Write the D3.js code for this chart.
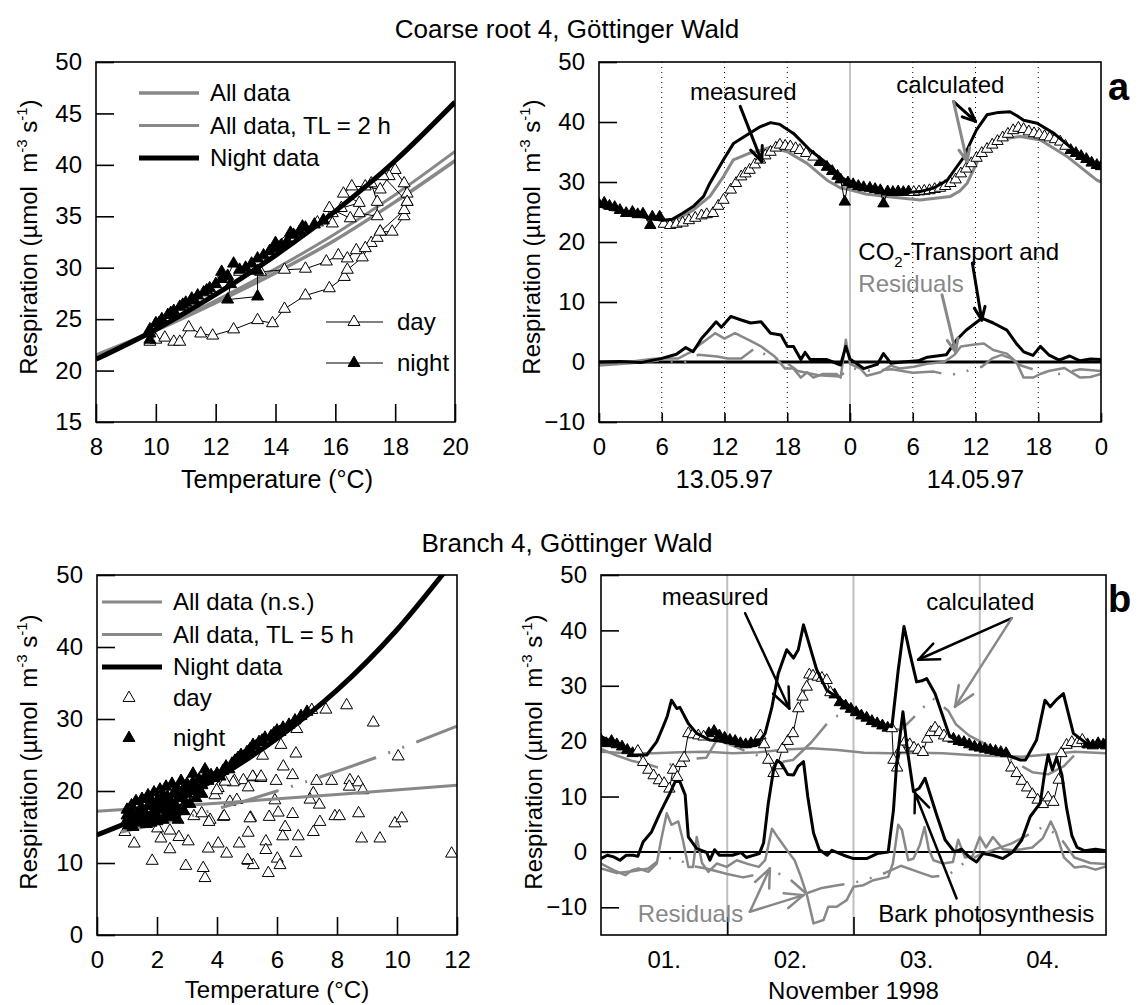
<!DOCTYPE html>
<html>
<head>
<meta charset="utf-8">
<script src="https://cdn.jsdelivr.net/npm/d3@7"></script>
<style>
  body { margin: 0; background: #fff; overflow: hidden; }
  svg { display: block; }
  text { white-space: pre; }
</style>
</head>
<body>
<script>
// ---------- data: coarse root (panel a, left) ----------
const crTempTicks = [8, 10, 12, 14, 16, 18, 20]
const crRespTicks = [15, 20, 25, 30, 35, 40, 45, 50]
const crFitT = [8, 10, 12, 14, 16, 18, 20]
const crFitAll = [21.5, 23.9, 26.6, 29.5, 32.7, 36.4, 40.4]
const crFitTL = [21.4, 23.9, 26.8, 29.9, 33.3, 37.1, 41.3]
const crFitNight = [21.1, 24.0, 27.4, 31.2, 35.5, 40.4, 46.1]
const crDay1 = [[9.8, 22.8], [10.0, 23.0], [10.3, 23.2], [10.6, 22.8], [10.8, 22.8], [11.1, 24.2], [11.5, 23.6], [11.9, 23.4], [12.6, 24.0], [13.4, 24.9], [13.9, 24.6], [14.3, 26.0], [15.0, 27.3], [15.8, 28.0], [16.3, 29.1], [16.4, 29.8], [16.9, 31.0], [17.2, 32.4], [17.5, 33.5], [17.9, 33.5], [18.3, 35.0], [18.4, 36.4], [18.4, 37.2], [18.3, 38.2], [18.0, 39.5], [17.8, 38.9], [17.5, 37.6], [17.0, 37.9], [16.55, 37.9], [16.27, 37.2], [16.8, 36.3], [16.2, 35.8], [15.9, 35.3], [15.6, 34.6]]
const crDay2 = [[12.8, 29.6], [13.5, 29.6], [14.3, 29.8], [15.0, 29.9], [15.7, 30.6], [16.1, 31.2], [16.4, 30.9], [16.7, 31.7], [17.0, 31.9], [17.4, 32.9], [17.5, 33.5], [18.3, 35.6], [18.4, 36.4], [17.6, 38.9], [17.2, 38.2], [17.4, 36.4], [17.4, 35.0], [16.8, 35.3], [16.5, 34.8], [15.8, 35.8], [15.9, 34.3], [15.4, 34.4]]
const crNight1 = [[15.6, 34.6], [15.3, 34.2], [15.0, 33.9], [14.8, 33.5], [14.6, 33.2], [14.4, 32.6], [14.2, 32.2], [14.0, 31.9], [13.8, 31.6], [13.6, 31.2], [13.4, 30.9], [13.2, 30.4], [13.0, 30.0], [12.8, 29.8], [12.6, 30.4], [12.4, 29.2], [12.2, 28.9], [12.0, 28.4], [11.8, 28.0], [11.6, 27.6], [11.4, 27.3], [11.2, 27.0], [11.0, 26.6], [10.8, 26.2], [10.6, 25.8], [10.4, 25.4], [10.2, 25.0], [10.0, 24.6], [9.8, 24.0], [9.8, 23.0]]
const crNight2 = [[14.9, 34.0], [14.5, 33.4], [14.0, 32.4], [13.4, 29.7], [13.4, 27.2], [12.4, 26.9], [12.5, 28.4], [12.2, 29.6], [11.7, 27.8], [11.3, 26.8], [10.9, 26.4], [10.5, 25.6], [10.1, 24.6], [9.8, 23.6]]

// ---------- data: coarse root time course (panel a, right) ----------
const trHourTicks = [0, 6, 12, 18, 24, 30, 36, 42, 48]
const trRespTicks = [-10, 0, 10, 20, 30, 40, 50]
const trDates = [[12, '13.05.97'], [36, '14.05.97']]
const trDaylight = [[6, 21], [30, 44.8]]
const trMeasured = [[0, 26.3], [0.5, 26.5], [1, 26.0], [1.5, 25.8], [2, 25.3], [2.6, 24.8], [3.2, 25.0], [3.7, 24.6], [4.2, 24.7], [4.9, 22.8], [5.1, 24.2], [5.8, 24.2], [6.2, 23.0], [6.8, 22.8], [7.4, 23.0], [8.0, 23.2], [8.6, 23.6], [9.2, 24.0], [9.8, 24.4], [10.3, 24.6], [10.9, 24.8], [11.4, 26.0], [11.9, 27.0], [12.6, 28.7], [13.1, 29.8], [13.6, 30.9], [14.0, 31.4], [14.4, 32.0], [14.9, 32.9], [15.4, 33.7], [15.9, 34.4], [16.4, 35.0], [16.9, 35.7], [17.3, 36.2], [17.8, 36.0], [18.3, 35.9], [18.8, 35.6], [19.2, 35.3], [19.8, 34.8], [20.5, 34.2], [21.1, 33.3], [21.8, 32.5], [22.3, 31.8], [22.8, 31.0], [23.1, 30.4], [23.5, 26.7], [23.8, 29.9], [24.3, 29.6], [24.8, 29.3], [25.3, 29.1], [25.9, 29.0], [26.4, 28.8], [26.9, 28.6], [27.2, 26.4], [27.6, 28.4], [28.1, 28.3], [28.6, 28.4], [29.1, 28.3], [29.6, 28.4], [30.1, 28.3], [30.6, 28.4], [31.1, 28.5], [31.6, 28.6], [32.1, 28.8], [32.6, 29.0], [33.1, 29.3], [33.6, 29.8], [34.1, 30.4], [34.6, 31.4], [35.1, 32.2], [35.6, 33.1], [36.1, 34.0], [36.6, 34.8], [37.1, 35.5], [37.6, 36.2], [38.1, 36.8], [38.6, 37.4], [39.1, 38.0], [39.6, 38.6], [40.1, 39.0], [40.6, 38.8], [41.1, 38.4], [41.6, 38.1], [42.1, 37.9], [42.6, 37.6], [43.1, 37.4], [43.6, 37.1], [44.1, 36.7], [44.6, 36.0], [45.1, 35.3], [45.6, 34.8], [46.1, 34.3], [46.6, 33.8], [47.1, 33.2], [47.6, 32.8], [48, 32.6]]
const trCalc = [[0, 26.0], [2, 25.2], [4, 24.3], [6, 23.6], [7, 23.8], [8, 24.8], [9, 25.9], [10, 27.6], [10.6, 29.8], [11.9, 33.7], [12.85, 36.4], [14.1, 37.8], [15.4, 39.2], [16.4, 39.9], [17.3, 39.6], [18.6, 38.1], [20.2, 35.3], [21.8, 33.1], [23.1, 30.9], [24, 29.8], [25.5, 28.8], [27.5, 28.1], [29, 28.2], [30.7, 28.4], [32, 29.0], [33.3, 30.3], [34.2, 32.5], [34.9, 34.2], [35.5, 36.5], [36.1, 38.7], [37.1, 41.2], [38.2, 41.6], [39.3, 41.7], [40.0, 41.0], [40.6, 40.3], [41.9, 39.8], [43.5, 38.1], [45.4, 35.3], [46.7, 33.7], [48, 32.6]]
const trCalcTL = [[0, 26.0], [2, 25.0], [4, 24.2], [6, 23.7], [7, 23.5], [8, 24.3], [9, 25.3], [10.6, 27.6], [11.9, 30.9], [12.85, 33.7], [14.4, 34.8], [15.5, 35.3], [16.4, 35.8], [18.0, 35.05], [19.9, 33.1], [21.8, 30.3], [23.1, 29.0], [24, 28.7], [25.5, 28.0], [27.5, 27.6], [30.7, 27.0], [33.6, 27.6], [34.5, 28.5], [35.2, 29.8], [35.8, 32.0], [36.4, 34.2], [37.2, 36.0], [38, 37.0], [40.3, 37.6], [42.2, 37.0], [44.8, 34.2], [47.6, 30.3], [48, 30.0]]
const trTransport = [[0, 0.0], [2, 0.1], [4, -0.1], [6, 0.6], [7.4, 1.3], [8.3, 2.4], [9.0, 1.7], [9.8, 3.9], [10.4, 5.1], [11.2, 6.7], [11.7, 5.8], [12.6, 7.6], [13.6, 7.0], [14.5, 6.5], [15.5, 6.7], [16.4, 4.8], [17.4, 4.5], [18.0, 2.6], [18.6, 2.6], [19.3, 0.4], [19.7, 1.6], [20.2, 0.4], [21.8, 0.4], [23.1, -0.5], [23.6, 2.6], [24, 0.5], [25.3, -1.1], [26.6, -0.4], [27.2, 1.4], [27.9, -0.2], [29, 0], [30.5, 0.2], [31.4, 0.8], [33.2, 1.2], [34.2, 3.7], [35.1, 5.3], [36.6, 7.3], [37.7, 6.5], [39, 5.3], [39.9, 3.1], [40.6, 1.7], [41.5, 1.1], [42.2, 2.6], [43, 1.2], [44, 0.3], [45, 1.0], [46, 0.2], [47, 0.5], [48, 0.4]]
const trResid = [[0, -0.3], [2.8, 0], [5.0, 0.5], [6, 0.6], [7.6, 0.6], [8.8, 1.7], [9.8, 3.1], [11.1, 4.8], [12, 3.9], [13, 4.8], [14.3, 3.7], [15.5, 2.6], [16.8, 0.9], [17.8, -1.1], [18.6, -1.1], [19.3, -2.6], [19.9, -1.7], [20.5, -2.6], [21.4, -2.0], [22.7, -2.0], [23.1, -2.6], [23.6, 3.7], [24.0, -0.3], [25.0, -1.1], [25.6, -2.3], [26.9, -1.7], [27.9, -0.6], [28.8, -1.1], [30.1, -0.8], [31.4, -0.3], [33.0, 0], [34.0, 1.2], [34.6, 2.6], [35.9, 2.9], [36.8, 3.1], [37.7, 2.0], [39, 1.4], [39.9, 0], [40.6, -2.6], [41.5, -2.6], [42.2, -2.0], [43, -1.5], [44.5, -1.0], [46, -2.6], [47, -2.5], [48, -2.0]]
const trResidTL = [[0, -0.6], [3, -0.2], [6, 0.3], [8, -0.2], [9.5, 1.2], [11.3, 0.9], [12.3, 0.6], [13.6, 0.6], [14.9, 2.3], [15.5, 1.7], [16.4, 0.6], [17.4, 0.6], [19, -1.5], [21, -2.2], [23, -2.4], [24, -1.0], [26, -1.5], [28, -1.2], [30, -1.8], [32, -1.6], [33.5, -2.2], [34.9, -1.7], [35.7, -1.1], [36.6, -0.8], [37.6, 0.6], [38.5, 1.2], [39.4, 0.6], [40.2, -0.5], [42, -1.5], [44, -2.0], [46, -1.2], [48, -1.5]]

// ---------- data: branch (panel b, left) ----------
const brTempTicks = [0, 2, 4, 6, 8, 10, 12]
const brRespTicks = [0, 10, 20, 30, 40, 50]
const brFitT = [0, 2, 4, 6, 8, 10, 11.6]
const brFitNight = [13.9, 17.4, 21.8, 27.3, 34.0, 42.4, 50.5]
const brFitAllT = [0, 4, 8, 12]
const brFitAll = [17.2, 18.3, 19.5, 20.8]
const brFitTLT = [0.8, 3, 6, 9, 12]
const brFitTL = [14.3, 16.4, 20.0, 24.2, 29.0]
const brDay = [[7.16, 31.25], [7.63, 31.3], [8.32, 31.9], [9.21, 29.5], [6.66, 28.6], [6.13, 26.4], [5.52, 24.9], [6.63, 25.2], [10.04, 24.8], [6.21, 23.4], [6.52, 22.2], [5.97, 21.4], [5.21, 21.9], [5.46, 21.8], [4.88, 21.5], [4.58, 21.4], [5.04, 20.5], [7.32, 21.4], [7.82, 21.4], [8.43, 21.5], [8.71, 21.2], [8.41, 20.6], [8.86, 20.1], [7.21, 19.7], [7.1, 18.8], [7.41, 18.1], [5.93, 18.7], [6.04, 17.0], [6.52, 16.8], [5.74, 16.4], [5.12, 16.3], [4.21, 16.4], [3.77, 16.0], [7.93, 16.5], [8.08, 16.5], [8.72, 16.9], [7.43, 15.7], [7.21, 14.3], [6.27, 15.0], [6.19, 13.7], [6.71, 13.7], [5.04, 14.2], [4.74, 12.7], [5.63, 13.0], [5.63, 11.8], [6.63, 11.4], [4.04, 12.7], [3.71, 12.0], [4.32, 11.3], [5.04, 10.3], [5.21, 9.7], [6.01, 10.6], [6.1, 9.7], [5.71, 8.6], [3.54, 9.3], [3.6, 7.9], [8.82, 13.4], [9.43, 13.4], [9.93, 15.5], [10.16, 16.2], [11.82, 11.3], [0.93, 14.3], [1.24, 12.7], [1.84, 10.3], [2.02, 14.8], [2.13, 13.4], [2.43, 14.5], [2.43, 11.9], [2.73, 13.6], [2.96, 9.6], [3.04, 13.0], [3.23, 16.5], [3.73, 15.7], [4.24, 16.5], [4.43, 18.5], [5.1, 16.2], [5.02, 10.4], [4.04, 20.4], [4.54, 21.2], [3.49, 16.9], [3.93, 19.4], [4.27, 21.3], [3.99, 20.1], [4.66, 18.75], [5.19, 22.0], [5.47, 22.0]]
const brNight = [[0.95, 15.6], [1.0, 16.6], [1.05, 15.2], [1.1, 16.0], [1.2, 17.0], [1.25, 15.8], [1.3, 16.4], [1.4, 17.2], [1.45, 16.0], [1.5, 17.6], [1.6, 16.8], [1.65, 15.4], [1.7, 17.9], [1.8, 16.4], [1.85, 18.2], [1.9, 17.0], [2.0, 18.6], [2.05, 16.2], [2.1, 17.4], [2.15, 19.0], [2.2, 18.0], [2.3, 16.8], [2.35, 19.2], [2.4, 17.8], [2.45, 18.6], [2.5, 16.4], [2.55, 19.6], [2.6, 18.2], [2.7, 20.2], [2.75, 17.2], [2.8, 19.0], [2.9, 20.4], [2.95, 18.4], [3.0, 21.0], [3.1, 20.0], [3.2, 21.2], [3.3, 20.6], [3.4, 21.6], [3.5, 20.8], [3.6, 22.0], [3.7, 21.4], [3.8, 22.2], [3.9, 21.8], [4.0, 22.4], [4.1, 22.0], [4.2, 22.8], [4.3, 23.4], [4.4, 23.0], [4.5, 23.8], [4.6, 24.2], [4.7, 24.6], [4.8, 25.0], [4.9, 24.8], [5.0, 25.4], [5.1, 25.8], [5.2, 26.4], [5.3, 26.2], [5.4, 26.8], [5.5, 27.0], [5.6, 27.4], [5.8, 27.6], [5.9, 28.0], [6.0, 28.4], [6.1, 28.2], [6.2, 28.8], [6.4, 29.2], [6.6, 29.8], [6.8, 30.4], [7.0, 31.0], [1.0, 17.4], [1.15, 18.0], [1.3, 18.6], [1.5, 18.9], [1.7, 19.4], [1.9, 19.8], [2.1, 20.2], [2.3, 20.6], [2.5, 21.0], [1.2, 15.0], [1.4, 15.6], [1.6, 16.2], [1.8, 15.6], [2.0, 15.8], [2.2, 16.0], [2.4, 16.6], [2.6, 17.0], [2.7, 16.0], [2.9, 17.2], [3.1, 18.2], [3.3, 19.0], [3.5, 19.6], [2.8, 21.4], [3.2, 22.4], [3.6, 23.0], [3.0, 19.6], [2.6, 19.9], [2.2, 19.4], [1.8, 18.8], [3.4, 20.0]]

// ---------- data: branch time course (panel b, right) ----------
const bxRespTicks = [-10, 0, 10, 20, 30, 40, 50]
const bxDayBounds = [24, 48, 72]
const bxDayLabels = [[12, '01.'], [36, '02.'], [60, '03.'], [84, '04.']]
const bxDaylight = [[6.6, 20], [30, 44], [54.8, 66], [77.5, 92]]
const bxMeasured = [[0, 20.2], [1, 19.6], [2, 20.0], [3, 19.4], [4, 19.0], [5, 18.4], [6, 17.8], [7, 18.2], [8, 16.2], [9, 14.8], [10, 13.8], [11, 12.9], [12, 12.4], [13, 11.4], [13.7, 14.8], [14.5, 13.5], [15.2, 16.0], [15.8, 17.0], [16.6, 21.4], [17.5, 21.2], [18.5, 21.0], [19.5, 20.8], [20.5, 21.4], [21.5, 21.8], [22.5, 21.0], [23.5, 20.6], [24.5, 20.2], [25.5, 20.0], [26.5, 19.6], [27.5, 19.4], [28.5, 19.6], [29.5, 19.8], [30.3, 21.0], [31.0, 19.4], [31.8, 16.6], [32.8, 14.2], [33.5, 15.6], [34.5, 18.6], [35.5, 20.0], [36.5, 21.4], [37.5, 25.9], [38.3, 28.0], [39.1, 29.8], [39.6, 32.0], [40.3, 31.8], [41.2, 31.6], [42.0, 31.4], [42.9, 31.0], [43.6, 28.8], [44.4, 28.4], [45.4, 27.0], [46.5, 26.4], [47.5, 25.8], [48.5, 25.2], [49.5, 24.6], [50.5, 24.2], [51.5, 23.6], [52.5, 23.2], [53.5, 22.8], [54.5, 22.4], [55.3, 22.3], [55.6, 16.6], [56.3, 15.2], [57.0, 18.6], [57.8, 19.9], [58.7, 19.4], [59.5, 18.8], [60.3, 18.4], [61.2, 18.0], [62.0, 20.4], [62.7, 21.6], [63.5, 22.4], [64.3, 21.6], [65.2, 21.0], [66.0, 20.6], [67, 20.4], [68, 20.0], [69, 19.8], [70, 19.4], [71, 19.0], [72, 18.8], [73, 18.6], [74, 18.4], [75, 18.2], [76, 18.0], [77, 17.8], [78, 15.2], [79, 14.2], [80, 12.8], [81, 11.6], [82, 10.4], [83, 9.4], [84, 8.6], [85, 9.8], [86, 9.0], [87, 13.0], [87.5, 17.8], [88.5, 19.3], [89.5, 19.8], [90.5, 19.6], [91.5, 20.2], [92.5, 19.4], [93.5, 19.2], [94.5, 19.6], [95.5, 19.4], [96, 19.2]]
const bxCalc = [[0, 20.8], [1.5, 20.2], [3.6, 19.0], [6.1, 17.5], [8.7, 17.5], [10.6, 19.9], [11.8, 22.6], [12.6, 24.5], [13.4, 27.4], [14.4, 25.9], [15.0, 26.1], [16.6, 23.2], [18.2, 21.4], [20.7, 20.2], [23.9, 19.9], [27.7, 19.0], [29.6, 19.3], [31.2, 21.4], [32.5, 26.2], [33.7, 32.2], [35.3, 36.5], [36.6, 35.0], [37.5, 36.5], [38.5, 41.0], [39.7, 37.1], [41.0, 32.9], [42.9, 29.2], [44.8, 28.0], [46.5, 26.8], [48, 25.9], [50, 24.6], [52, 23.6], [54.3, 22.8], [55.3, 22.6], [56.5, 32.8], [57.6, 40.7], [58.7, 35.9], [60.0, 30.7], [61.0, 30.9], [61.9, 31.3], [63.5, 28.6], [64.8, 25.0], [66.3, 20.8], [68.3, 19.9], [70.5, 19.2], [73.3, 18.4], [77.1, 17.5], [79.7, 16.6], [80.7, 16.6], [82.8, 20.2], [84.4, 27.4], [85.4, 26.2], [86.6, 27.5], [87.9, 28.6], [89.8, 21.4], [92.3, 19.6], [96, 19.0]]
const bxCalcFlat = [[0, 18.1], [5, 17.8], [10, 17.8], [15, 18.0], [20, 18.1], [25, 17.8], [30, 18.0], [35, 18.5], [40, 18.7], [45, 18.4], [50, 17.9], [55, 17.8], [60, 17.9], [65, 17.8], [70, 17.5], [75, 17.3], [80, 17.2], [85, 17.6], [90, 18.1], [96, 17.8]]
const bxCalcTL = [[0, 18.6], [3, 17.4], [6, 16.4], [9, 15.8], [11, 15.2], [14, 16.0], [17, 16.8], [20, 17.0], [22, 20.2], [25, 19.2], [28, 18.0], [31, 17.0], [34, 16.2], [36.5, 16.6], [40, 19.8], [43, 23.2], [45, 24.6], [48, 25.0], [51, 24.0], [54, 22.5], [57, 22.0], [60, 24.8], [63, 27.8], [66, 25.5], [67.5, 23.0], [70, 21.0], [73, 19.5], [76, 17.8], [79, 16.0], [82, 14.4], [85, 14.0], [88, 15.5], [91, 18.5], [94, 19.8], [96, 20.0]]
const bxPhoto = [[0, -1.2], [1.2, -0.6], [2.4, -0.9], [3.6, -1.5], [4.8, -0.6], [6.1, -0.6], [7.0, -0.8], [8.0, 1.8], [9.6, 3.6], [11.2, 7.0], [13.1, 10.6], [14.1, 12.7], [15.0, 12.7], [16.0, 10.3], [16.6, 2.7], [18.2, 0.6], [20.1, -0.1], [20.7, -1.5], [21.6, 0.4], [22.5, -0.6], [25, -0.6], [26.6, -0.1], [27.6, -1.0], [30.1, -0.3], [30.9, 1.6], [31.8, 8.8], [32.8, 14.8], [33.5, 16.5], [34.3, 16.0], [35.5, 14.0], [36.6, 13.9], [37.5, 15.5], [38.5, 16.3], [39.3, 10.0], [40.4, 3.4], [41.5, 0.4], [43, -0.6], [43.9, 0.3], [46.1, -0.6], [48, -1.2], [50.5, -1.2], [52.5, -0.3], [54.6, 0], [55.6, 7.6], [56.2, 16.0], [57.4, 25.3], [58.3, 18.0], [59.4, 10.9], [60.5, 11.5], [61.6, 13.3], [63.8, 6.7], [65.4, 2.2], [67.2, 0.0], [68.5, 0.5], [70.1, -1.0], [71.4, -1.8], [72.6, -0.3], [74.5, -0.6], [76.4, -1.2], [78.3, 0], [80, 2.2], [81.6, 6.4], [83.5, 8.8], [84.3, 14.0], [85, 17.5], [85.8, 14.8], [86.6, 17.0], [87.6, 14.0], [88.5, 8.0], [89.5, 3.0], [90.5, 0.8], [92, 0.2], [94, 0.5], [96, 0.2]]
const bxResid = [[0, -2.1], [2.4, -3.3], [4.6, -4.2], [5.9, -3.3], [7.1, -3.0], [9.0, -3.6], [10.6, -2.1], [11.4, 2.0], [12.5, 7.0], [13.4, 4.9], [14.7, 5.5], [15.6, 2.0], [16.6, -2.7], [17.5, -2.7], [18.2, 2.7], [19.2, -2.0], [20.4, -3.6], [22, -2.1], [23.9, -2.7], [25.8, -1.5], [28, -2.2], [30, -2.7], [31.2, -1.5], [32.5, 4.2], [33.7, 2.5], [35.6, 0], [36.8, -1.5], [37.9, -4.2], [39.2, -8.0], [40.4, -12.9], [42.3, -12.3], [43.2, -9.9], [44.8, -9.9], [46.7, -8.7], [48, -6.3], [49.9, -6.0], [51.8, -5.1], [54.6, -4.5], [55.5, -2.0], [56.5, 4.9], [57.2, 4.0], [58.4, -1.5], [59.4, -1.2], [60.6, 1.2], [61.5, 4.5], [62.3, 0.5], [63.2, -1.5], [65.0, -2.1], [66.9, -1.8], [67.9, 2.2], [69.2, -1.0], [70.6, -0.8], [72.0, 2.7], [73.2, 0.8], [74.5, 2.7], [76.4, 0.5], [78.3, 0.3], [80, 0.5], [82, 0.8], [84, 2.5], [85.5, 5.5], [86.5, 3.5], [88, -1.0], [90, -2.8], [92, -2.6], [94, -3.2], [96, -2.6]]
const bxResidTL = [[0, -3.0], [3, -3.8], [6, -3.5], [9, -3.0], [11, -1.5], [14, -1.0], [17, -2.5], [20, -3.0], [24, -4.0], [27, -4.6], [30, -4.0], [33, -3.5], [36, -5.0], [39, -7.5], [42, -6.5], [45, -6.0], [48, -5.6], [51, -4.8], [54, -3.8], [57, -2.5], [60, -3.5], [63, -4.5], [66, -4.2], [69, -2.0], [72, -0.5], [75, 0.5], [78, 1.5], [81, 3.0], [84, 4.5], [87, 3.0], [90, -1.0], [93, -2.0], [96, -2.2]]

// ---------- drawing ----------
const GRAY = '#888'
const FONT = 'Arial, "Liberation Sans", sans-serif'
const svg = d3.select('body').append('svg')
  .attr('width', 1141).attr('height', 1005)
  .style('font-family', FONT)

function makePanel(id, box, xDomain, yDomain) {
  const x = d3.scaleLinear().domain(xDomain).range([box.left, box.right])
  const y = d3.scaleLinear().domain(yDomain).range([box.bottom, box.top])
  svg.append('clipPath').attr('id', id).append('rect')
    .attr('x', box.left).attr('y', box.top)
    .attr('width', box.right - box.left).attr('height', box.bottom - box.top)
  const back = svg.append('g')
  const g = svg.append('g').attr('clip-path', `url(#${id})`)
  const line = d3.line().x(d => x(d[0])).y(d => y(d[1]))
  return { x, y, g, back, box, line }
}

function frame(p) {
  svg.append('rect')
    .attr('x', p.box.left).attr('y', p.box.top)
    .attr('width', p.box.right - p.box.left).attr('height', p.box.bottom - p.box.top)
    .attr('fill', 'none').attr('stroke', '#000').attr('stroke-width', 1.6)
}

function styleAxis(sel) {
  sel.select('.domain').remove()
  sel.selectAll('line').attr('stroke', '#000').attr('stroke-width', 1.6)
  sel.selectAll('text').attr('font-size', 24).attr('font-family', FONT).attr('fill', '#000')
}

function leftAxis(p, ticks) {
  svg.append('g').attr('transform', `translate(${p.box.left},0)`)
    .call(d3.axisLeft(p.y).tickValues(ticks).tickSize(-18).tickPadding(14).tickFormat(d3.format('d')))
    .call(styleAxis)
}

function bottomAxis(p, ticks, size, fmt) {
  svg.append('g').attr('transform', `translate(0,${p.box.bottom})`)
    .call(d3.axisBottom(p.x).tickValues(ticks).tickSize(-size).tickPadding(16).tickFormat(fmt || d3.format('d')))
    .call(styleAxis)
}

function yLabel(x, yc) {
  const t = svg.append('text')
    .attr('transform', `translate(${x},${yc}) rotate(-90)`)
    .attr('text-anchor', 'middle').attr('font-size', 24)
  t.append('tspan').text('Respiration (µmol  m')
  t.append('tspan').attr('font-size', 15).attr('dy', -10).text('-3')
  t.append('tspan').attr('dy', 10).text(' s')
  t.append('tspan').attr('font-size', 15).attr('dy', -10).text('-1')
  t.append('tspan').attr('dy', 10).text(')')
}

function text(x, y, str, opts = {}) {
  return svg.append('text').attr('x', x).attr('y', y)
    .attr('font-size', opts.size || 24)
    .attr('font-weight', opts.weight || 'normal')
    .attr('text-anchor', opts.anchor || 'start')
    .attr('fill', opts.color || '#000')
    .text(str)
}

function arrow(p, from, to, color, width, head) {
  const x1 = p.x(from[0]), y1 = p.y(from[1])
  const x2 = p.x(to[0]), y2 = p.y(to[1])
  const a = Math.atan2(y2 - y1, x2 - x1)
  const g = svg.append('g').attr('stroke', color).attr('stroke-width', width)
    .attr('stroke-linecap', 'round')
  g.append('line').attr('x1', x1).attr('y1', y1).attr('x2', x2).attr('y2', y2)
  ;[-0.4, 0.4].forEach(da => {
    g.append('line').attr('x1', x2).attr('y1', y2)
      .attr('x2', x2 - head * Math.cos(a + da)).attr('y2', y2 - head * Math.sin(a + da))
  })
}

const triOpen = d3.symbol().type(d3.symbolTriangle).size(62)

function triangles(g, p, data, filled, size) {
  const sym = d3.symbol().type(d3.symbolTriangle).size(size || 62)
  g.selectAll(null).data(data).enter().append('path')
    .attr('d', sym)
    .attr('transform', d => `translate(${p.x(d[0])},${p.y(d[1])})`)
    .attr('fill', filled ? '#000' : '#fff')
    .attr('stroke', '#000').attr('stroke-width', 1)
}

function path(g, p, data, color, width, dash) {
  const el = g.append('path').datum(data).attr('d', p.line)
    .attr('fill', 'none').attr('stroke', color).attr('stroke-width', width)
    .attr('stroke-linejoin', 'round')
  if (dash) el.attr('stroke-dasharray', dash)
  return el
}

const zip = (xs, ys) => xs.map((v, i) => [v, ys[i]])

// titles
text(567, 38, 'Coarse root 4, Göttinger Wald', { anchor: 'middle', size: 26 })
text(567, 552, 'Branch 4, Göttinger Wald', { anchor: 'middle', size: 26 })

// ===== panel a, left =====
{
  const p = makePanel('c1', { left: 96, right: 455, top: 62, bottom: 422 }, [8, 20], [15, 50])
  const smooth = d3.line().curve(d3.curveMonotoneX).x(d => p.x(d[0])).y(d => p.y(d[1]))
  p.g.append('path').datum(zip(crFitT, crFitAll)).attr('d', smooth)
    .attr('fill', 'none').attr('stroke', GRAY).attr('stroke-width', 3.5)
  p.g.append('path').datum(zip(crFitT, crFitTL)).attr('d', smooth)
    .attr('fill', 'none').attr('stroke', GRAY).attr('stroke-width', 3)
  ;[crDay1, crDay2, crNight1, crNight2].forEach(s => path(p.g, p, s, '#000', 1))
  triangles(p.g, p, crDay1, false)
  triangles(p.g, p, crDay2, false)
  triangles(p.g, p, crNight1, true)
  triangles(p.g, p, crNight2, true)
  p.g.append('path').datum(zip(crFitT, crFitNight)).attr('d', smooth)
    .attr('fill', 'none').attr('stroke', '#000').attr('stroke-width', 5)
  frame(p)
  leftAxis(p, crRespTicks)
  bottomAxis(p, crTempTicks, 18)
  yLabel(37, 237)
  text(277, 488, 'Temperature (°C)', { anchor: 'middle', size: 25 })

  // legend
  const leg = [['All data', GRAY, 3.5], ['All data, TL = 2 h', GRAY, 3], ['Night data', '#000', 5]]
  leg.forEach((d, i) => {
    const yy = 93 + i * 32.5
    svg.append('line').attr('x1', 139).attr('x2', 199).attr('y1', yy).attr('y2', yy)
      .attr('stroke', d[1]).attr('stroke-width', d[2])
    text(210, yy + 8, d[0])
  })
  ;[['day', false, 322], ['night', true, 363]].forEach(d => {
    svg.append('line').attr('x1', 326).attr('x2', 383).attr('y1', d[2]).attr('y2', d[2])
      .attr('stroke', '#000').attr('stroke-width', 1)
    svg.append('path').attr('d', triOpen).attr('transform', `translate(354,${d[2]})`)
      .attr('fill', d[1] ? '#000' : '#fff').attr('stroke', '#000')
    text(397, d[2] + 8, d[0])
  })
}

// ===== panel a, right =====
{
  const p = makePanel('c2', { left: 599, right: 1101, top: 62, bottom: 422 }, [0, 48], [-10, 50])
  ;[6, 12, 18, 30, 36, 42].forEach(h => {
    p.back.append('line').attr('x1', p.x(h)).attr('x2', p.x(h)).attr('y1', p.box.top).attr('y2', p.box.bottom)
      .attr('stroke', '#000').attr('stroke-width', 1).attr('stroke-dasharray', '1 4')
  })
  p.back.append('line').attr('x1', p.x(24)).attr('x2', p.x(24)).attr('y1', p.box.top).attr('y2', p.box.bottom)
    .attr('stroke', GRAY).attr('stroke-width', 1)
  p.g.append('line').attr('x1', p.box.left).attr('x2', p.box.right).attr('y1', p.y(0)).attr('y2', p.y(0))
    .attr('stroke', '#000').attr('stroke-width', 3)
  path(p.g, p, trResidTL, GRAY, 2.5, '60 12 2 12 2 12')
  path(p.g, p, trResid, GRAY, 2.5)
  path(p.g, p, trTransport, '#000', 3)
  path(p.g, p, trCalcTL, GRAY, 3)
  path(p.g, p, trMeasured, '#000', 1)
  const isDay = d => trDaylight.some(r => d[0] >= r[0] && d[0] <= r[1])
  triangles(p.g, p, trMeasured.filter(d => !isDay(d)), true, 56)
  triangles(p.g, p, trMeasured.filter(isDay), false, 56)
  path(p.g, p, trCalc, '#000', 3)
  frame(p)
  leftAxis(p, trRespTicks)
  bottomAxis(p, trHourTicks, 9, d => d % 24)
  svg.append('line').attr('x1', p.x(24)).attr('x2', p.x(24)).attr('y1', p.box.bottom).attr('y2', p.box.bottom - 18)
    .attr('stroke', '#000').attr('stroke-width', 1.6)
  trDates.forEach(d => text(p.x(d[0]), 488, d[1], { anchor: 'middle', size: 25 }))
  yLabel(540, 237)
  text(1108, 100, 'a', { size: 38, weight: 'bold' })

  text(p.x(13.8), p.y(43.7), 'measured', { anchor: 'middle' })
  arrow(p, [13.5, 42.6], [15.57, 33.4], '#000', 3, 16)
  text(p.x(33.6), p.y(44.9), 'calculated', { anchor: 'middle' })
  arrow(p, [33.9, 43.4], [36.0, 40.1], '#000', 3, 14)
  arrow(p, [33.9, 43.4], [35.2, 33.4], GRAY, 3, 14)
  const co = text(p.x(24.8), p.y(17.0), 'CO')
  co.append('tspan').attr('font-size', 15).attr('dy', 7).text('2')
  co.append('tspan').attr('dy', -7).text('-Transport and')
  text(p.x(24.8), p.y(11.7), 'Residuals', { color: GRAY })
  arrow(p, [35.7, 16.5], [36.6, 7.0], '#000', 3, 14)
  arrow(p, [32.8, 11.2], [34.1, 1.7], GRAY, 3, 14)
}

// ===== panel b, left =====
{
  const p = makePanel('c3', { left: 97, right: 457, top: 575, bottom: 935 }, [0, 12], [0, 50])
  const smooth = d3.line().curve(d3.curveMonotoneX).x(d => p.x(d[0])).y(d => p.y(d[1]))
  triangles(p.g, p, brDay, false)
  p.g.append('path').datum(zip(brFitAllT, brFitAll)).attr('d', smooth)
    .attr('fill', 'none').attr('stroke', GRAY).attr('stroke-width', 3)
  p.g.append('path').datum(zip(brFitTLT, brFitTL)).attr('d', smooth)
    .attr('fill', 'none').attr('stroke', GRAY).attr('stroke-width', 3)
    .attr('stroke-dasharray', '60 13 2 13 2 13')
  triangles(p.g, p, brNight, true)
  p.g.append('path').datum(zip(brFitT, brFitNight)).attr('d', smooth)
    .attr('fill', 'none').attr('stroke', '#000').attr('stroke-width', 5)
  frame(p)
  leftAxis(p, brRespTicks)
  bottomAxis(p, brTempTicks, 18)
  yLabel(37, 752)
  text(277, 998, 'Temperature (°C)', { anchor: 'middle', size: 24 })

  const leg = [['All data (n.s.)', GRAY, 3], ['All data, TL = 5 h', GRAY, 3], ['Night data', '#000', 5]]
  leg.forEach((d, i) => {
    const yy = 602 + i * 32.5
    svg.append('line').attr('x1', 102).attr('x2', 162).attr('y1', yy).attr('y2', yy)
      .attr('stroke', d[1]).attr('stroke-width', d[2])
    text(173, yy + 8, d[0])
  })
  ;[['day', false, 698], ['night', true, 738]].forEach(d => {
    svg.append('path').attr('d', triOpen).attr('transform', `translate(129,${d[2]})`)
      .attr('fill', d[1] ? '#000' : '#fff').attr('stroke', '#000')
    text(173, d[2] + 8, d[0])
  })
}

// ===== panel b, right =====
{
  const p = makePanel('c4', { left: 601, right: 1106, top: 575, bottom: 935 }, [0, 96], [-15, 50])
  bxDayBounds.forEach(h => {
    p.back.append('line').attr('x1', p.x(h)).attr('x2', p.x(h)).attr('y1', p.box.top).attr('y2', p.box.bottom)
      .attr('stroke', '#c0c0c0').attr('stroke-width', 2)
  })
  p.g.append('line').attr('x1', p.box.left).attr('x2', p.box.right).attr('y1', p.y(0)).attr('y2', p.y(0))
    .attr('stroke', '#000').attr('stroke-width', 2)
  path(p.g, p, bxResidTL, GRAY, 2.5, '60 12 2 12 2 12')
  path(p.g, p, bxResid, GRAY, 2.5)
  path(p.g, p, bxCalcFlat, GRAY, 2.5)
  path(p.g, p, bxCalcTL, GRAY, 2.5, '60 12 2 12 2 12')
  path(p.g, p, bxMeasured, '#000', 1)
  const isDay = d => bxDaylight.some(r => d[0] >= r[0] && d[0] <= r[1])
  triangles(p.g, p, bxMeasured.filter(d => !isDay(d)), true, 56)
  triangles(p.g, p, bxMeasured.filter(isDay), false, 56)
  path(p.g, p, bxPhoto, '#000', 3)
  path(p.g, p, bxCalc, '#000', 3)
  frame(p)
  leftAxis(p, bxRespTicks)
  bottomAxis(p, bxDayBounds, 18, () => '')
  bxDayLabels.forEach(d => text(p.x(d[0]), 968, d[1], { anchor: 'middle' }))
  text(p.x(48), 999, 'November 1998', { anchor: 'middle', size: 24 })
  yLabel(542, 752)
  text(1108, 612, 'b', { size: 38, weight: 'bold' })

  text(p.x(21.7), p.y(44.6), 'measured', { anchor: 'middle' })
  arrow(p, [27.4, 43.1], [35.8, 25.9], '#000', 2.5, 22)
  text(p.x(72.1), p.y(43.7), 'calculated', { anchor: 'middle' })
  arrow(p, [78.1, 42.2], [60.3, 34.7], '#000', 2.5, 22)
  arrow(p, [78.1, 42.2], [67.3, 26.2], GRAY, 2.5, 22)
  text(p.x(7.0), p.y(-12.6), 'Residuals', { color: GRAY })
  arrow(p, [28.3, -10.8], [32.1, -3.0], GRAY, 2.5, 20)
  arrow(p, [28.3, -10.8], [38.5, -7.8], GRAY, 2.5, 20)
  text(p.x(52.7), p.y(-12.6), 'Bark photosynthesis')
  arrow(p, [67.6, -8.4], [59.7, 10.6], '#000', 2.5, 20)
}
</script>
</body>
</html>
